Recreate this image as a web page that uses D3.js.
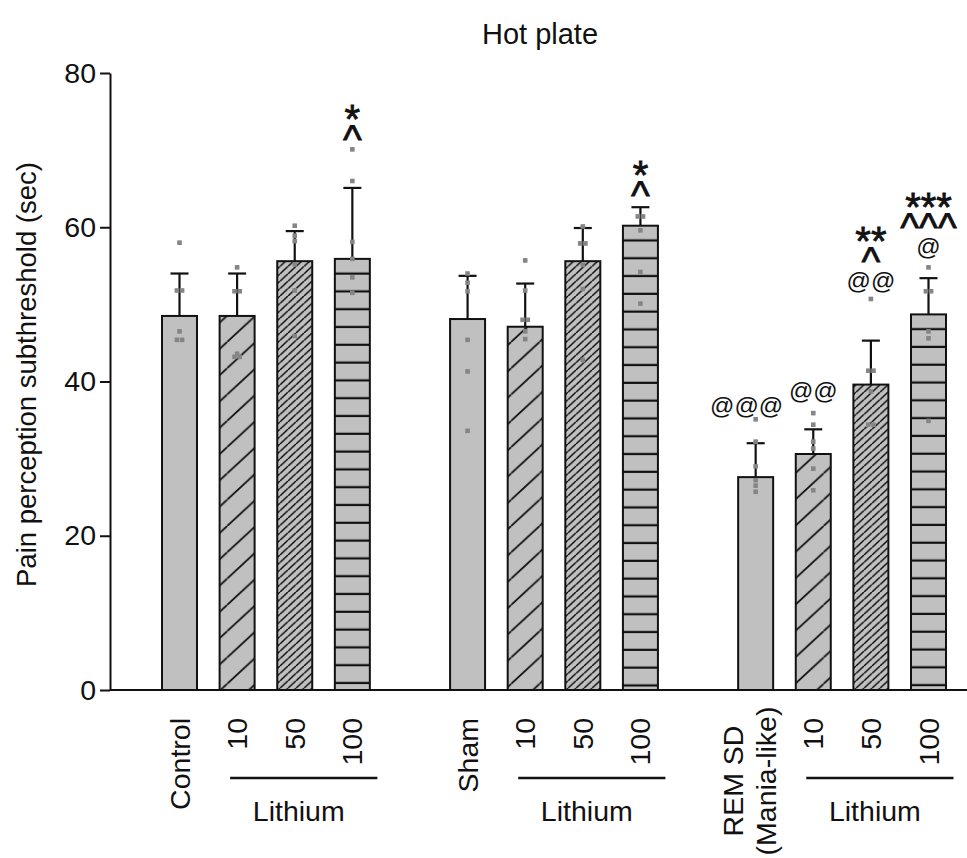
<!DOCTYPE html>
<html>
<head>
<meta charset="utf-8">
<script src="https://cdn.jsdelivr.net/npm/d3@7"></script>
<style>
  body { margin: 0; background: #fff; }
  svg text { font-family: "Liberation Sans", Arial, sans-serif; fill: #111; }
</style>
</head>
<body>
<div id="chart"></div>
<script>
var svgWidth = 967;
var svgHeight = 858;

// slot index of each bar along the x axis (gaps between the three groups)
var slots = [0, 1, 2, 3, 5, 6, 7, 8, 10, 11, 12, 13];
var labels = ["Control", "10", "50", "100", "Sham", "10", "50", "100", "REM SD|(Mania-like)", "10", "50", "100"];
var hatches = ["none", "sparse", "dense", "horiz", "none", "sparse", "dense", "horiz", "none", "sparse", "dense", "horiz"];
var means = [48.5, 48.5, 55.6, 55.9, 48.1, 47.1, 55.6, 60.2, 27.6, 30.6, 39.6, 48.7];
var errors = [5.5, 5.5, 3.9, 9.2, 5.6, 5.6, 4.3, 2.4, 4.4, 3.2, 5.7, 4.7];
var points = [
  [58.0, 51.8, 51.8, 46.5, 45.4, 45.4],
  [54.8, 51.7, 51.7, 43.6, 43.2, 43.2],
  [60.2, 58.9, 58.2, 55.2, 51.8, 45.9],
  [70.1, 66.0, 58.1, 55.9, 53.5, 51.5],
  [54.0, 52.8, 51.7, 45.4, 41.3, 33.6],
  [55.7, 51.8, 48.0, 48.0, 46.5, 45.5],
  [60.1, 57.9, 57.9, 55.1, 52.0, 42.8],
  [61.4, 61.4, 59.6, 54.2, 50.1],
  [35.1, 32.2, 29.0, 27.2, 26.5, 25.7],
  [35.9, 34.4, 32.2, 31.3, 28.7, 25.9],
  [50.7, 41.4, 41.4, 38.7, 34.4, 34.4],
  [54.8, 51.7, 51.7, 46.5, 45.6, 34.9]
];
// significance marks, listed from the bottom line up, and the level (in sec) of the bottom line
var marks = [[], [], [], ["^", "*"], [], [], [], ["^", "*"], ["@@@"], ["@@"], ["@@", "^", "**"], ["@", "^^^", "***"]];
var markAt = [0, 0, 0, 72.3, 0, 0, 0, 65.1, 36.6, 38.6, 52.8, 57.2];
var yTicks = [0, 20, 40, 60, 80];
var lithiumGroups = [[1, 3], [5, 7], [9, 11]];

var svg = d3.select("#chart").append("svg")
  .attr("width", svgWidth)
  .attr("height", svgHeight);

var x = d3.scaleLinear().domain([0, 13]).range([179.5, 928.5]);
var y = d3.scaleLinear().domain([0, 80]).range([690, 73]);
var barW = 35;

var defs = svg.append("defs");

// diagonal hatch
function diagPattern(id, w, h, sw) {
  var p = defs.append("pattern")
    .attr("id", id)
    .attr("patternUnits", "userSpaceOnUse")
    .attr("width", w)
    .attr("height", h);
  p.append("rect").attr("width", w).attr("height", h).attr("fill", "#c0c0c0");
  p.append("path")
    .attr("d", `M${-w},${h}L0,0M0,${h}L${w},0M${w},${h}L${2 * w},0`)
    .attr("stroke", "#111")
    .attr("stroke-width", sw);
}
diagPattern("sparse", 28.4, 26.3, 1.8);
diagPattern("dense", 8, 7.4, 1.5);

// horizontal lines, anchored to each bar top
means.forEach(function(m, i) {
  if (hatches[i] !== "horiz") return;
  var top = y(m);
  var p = defs.append("pattern")
    .attr("id", "horiz" + i)
    .attr("patternUnits", "userSpaceOnUse")
    .attr("x", 0)
    .attr("y", top)
    .attr("width", 40)
    .attr("height", 17.8);
  p.append("rect").attr("width", 40).attr("height", 17.8).attr("fill", "#c0c0c0");
  p.append("line")
    .attr("x1", 0).attr("x2", 40)
    .attr("y1", 14.7).attr("y2", 14.7)
    .attr("stroke", "#111")
    .attr("stroke-width", 2);
});

function fillFor(i) {
  if (hatches[i] === "none") return "#c0c0c0";
  if (hatches[i] === "horiz") return "url(#horiz" + i + ")";
  return "url(#" + hatches[i] + ")";
}

// title
svg.append("text")
  .attr("x", 540)
  .attr("y", 44)
  .attr("text-anchor", "middle")
  .style("font-size", "29px")
  .text("Hot plate");

// y axis
var yAxis = svg.append("g")
  .attr("transform", "translate(110,0)")
  .call(d3.axisLeft(y).tickValues(yTicks).tickSize(10).tickSizeOuter(0).tickPadding(4));
yAxis.select(".domain").attr("stroke", "#111").attr("stroke-width", 2);
yAxis.selectAll(".tick line").attr("stroke", "#111").attr("stroke-width", 2);
yAxis.selectAll(".tick text")
  .style("font-size", "28.5px")
  .style("font-family", "'Liberation Sans', Arial, sans-serif")
  .attr("fill", "#111");

svg.append("text")
  .attr("transform", `translate(36,${y(40) - 7}) rotate(-90)`)
  .attr("text-anchor", "middle")
  .style("font-size", "27.5px")
  .text("Pain perception subthreshold (sec)");

// bars
var bars = svg.append("g");
bars.selectAll("rect")
  .data(means)
  .enter()
  .append("rect")
  .attr("x", (d, i) => x(slots[i]) - barW / 2)
  .attr("y", d => y(d))
  .attr("width", barW)
  .attr("height", d => y(0) - y(d))
  .attr("fill", (d, i) => fillFor(i))
  .attr("stroke", "#111")
  .attr("stroke-width", 2);

// error bars (upper only)
var errG = svg.append("g").attr("stroke", "#111").attr("stroke-width", 2.2);
means.forEach(function(m, i) {
  var cx = x(slots[i]);
  errG.append("line")
    .attr("x1", cx).attr("x2", cx)
    .attr("y1", y(m)).attr("y2", y(m + errors[i]));
  errG.append("line")
    .attr("x1", cx - 9).attr("x2", cx + 9)
    .attr("y1", y(m + errors[i])).attr("y2", y(m + errors[i]));
});

// individual points
var ptG = svg.append("g");
points.forEach(function(vals, i) {
  var cx = x(slots[i]);
  vals.forEach(function(v, j) {
    var dup = vals.filter(w => w === v).length > 1;
    var off = dup ? (vals.indexOf(v) === j ? -2.6 : 2.6) : 0;
    ptG.append("rect")
      .attr("x", cx + off - 2.3)
      .attr("y", y(v) - 2.3)
      .attr("width", 4.6)
      .attr("height", 4.6)
      .attr("fill", "#858585");
  });
});

// x axis baseline
svg.append("line")
  .attr("x1", 110).attr("x2", svgWidth)
  .attr("y1", y(0)).attr("y2", y(0))
  .attr("stroke", "#111")
  .attr("stroke-width", 2);

// significance marks
var markG = svg.append("g");
marks.forEach(function(list, i) {
  if (!list.length) return;
  var cx = x(slots[i]) + (list[0] === "@@@" ? -9 : 0);
  var center = y(markAt[i]);
  list.forEach(function(s, k) {
    var isAt = s.charAt(0) === "@";
    var fs = isAt ? 24 : 40;
    var base = isAt ? center + 6.5 : (s.charAt(0) === "^" ? center + 21 : center + 23);
    markG.append("text")
      .attr("x", cx)
      .attr("y", base)
      .attr("text-anchor", "middle")
      .attr("stroke", isAt ? "none" : "#111")
      .attr("stroke-width", 0.8)
      .style("font-size", fs + "px")
      .text(s);
    center -= isAt ? 29 : 22;
  });
});

// category labels (rotated)
var labG = svg.append("g");
labels.forEach(function(l, i) {
  var cx = x(slots[i]);
  var lines = l.split("|");
  if (lines.length === 1) {
    labG.append("text")
      .attr("transform", `translate(${cx + 10},718) rotate(-90)`)
      .attr("text-anchor", "end")
      .style("font-size", "28.5px")
      .text(l);
  } else {
    lines.forEach(function(t, k) {
      labG.append("text")
        .attr("transform", `translate(${cx - 13 + k * 33},781) rotate(-90)`)
        .attr("text-anchor", "middle")
        .style("font-size", "28.5px")
        .text(t);
    });
  }
});

// Lithium brackets
lithiumGroups.forEach(function(g) {
  var a = x(slots[g[0]]);
  var b = x(slots[g[1]]);
  svg.append("line")
    .attr("x1", a - 7).attr("x2", b + 25)
    .attr("y1", 778).attr("y2", 778)
    .attr("stroke", "#111")
    .attr("stroke-width", 2.5);
  svg.append("text")
    .attr("x", (a + b) / 2 + 4)
    .attr("y", 821)
    .attr("text-anchor", "middle")
    .style("font-size", "28.5px")
    .text("Lithium");
});
</script>
</body>
</html>
